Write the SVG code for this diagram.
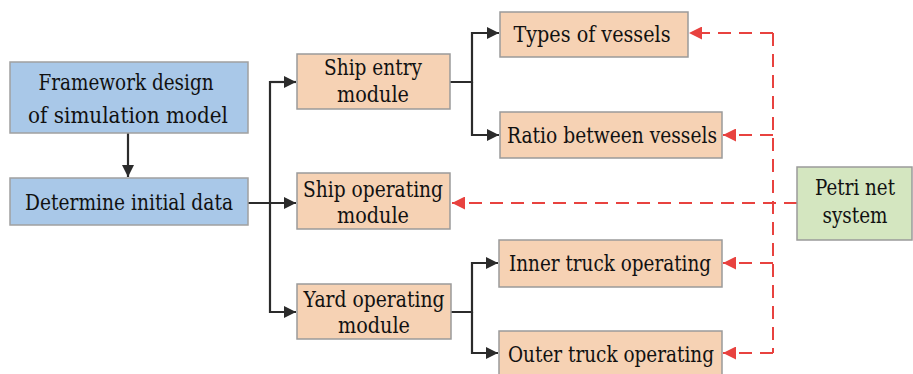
<svg xmlns="http://www.w3.org/2000/svg" width="913" height="374" viewBox="0 0 913 374">
<defs>
<marker id="ab" viewBox="0 0 10 10" refX="10" refY="5" markerWidth="12" markerHeight="12" markerUnits="userSpaceOnUse" orient="auto"><path d="M0,0 L10,5 L0,10 Z" fill="#2b2b2b"/></marker>
<marker id="ar" viewBox="0 0 10 10" refX="10" refY="5" markerWidth="13" markerHeight="13" markerUnits="userSpaceOnUse" orient="auto"><path d="M0,0 L10,5 L0,10 Z" fill="#e8423f"/></marker>
</defs>
<style>
text{font-family:"DejaVu Serif",serif;font-size:22px;fill:#111;text-anchor:middle}
.blue{fill:#a9c8e8;stroke:#a0a0a0;stroke-width:1.5}
.org{fill:#f6d2b4;stroke:#9a9a9a;stroke-width:1.5}
.grn{fill:#d4e6c0;stroke:#9a9a9a;stroke-width:1.5}
.k{fill:none;stroke:#2b2b2b;stroke-width:2.2}
.r{fill:none;stroke:#e8423f;stroke-width:2;stroke-dasharray:13 8}
</style>
<g id="connectors">
<path class="k" d="M128,133 V177" marker-end="url(#ab)"/>
<path class="k" d="M248,203 H296" marker-end="url(#ab)"/>
<path class="k" d="M296,82 H270 V312 H296" marker-end="url(#ab)"/>
<path class="k" d="M270,82 H296" marker-end="url(#ab)"/>
<path class="k" d="M450,82 H472 V33 H499" marker-end="url(#ab)"/>
<path class="k" d="M472,82 V135 H499" marker-end="url(#ab)"/>
<path class="k" d="M451,312 H472 V263 H498" marker-end="url(#ab)"/>
<path class="k" d="M472,312 V353 H498" marker-end="url(#ab)"/>
<path class="r" d="M797,203 H452" marker-end="url(#ar)"/>
<path class="r" d="M773,33 V353"/>
<path class="r" d="M773,33 H689" marker-end="url(#ar)"/>
<path class="r" d="M773,135 H723" marker-end="url(#ar)"/>
<path class="r" d="M773,263 H723" marker-end="url(#ar)"/>
<path class="r" d="M773,353 H723" marker-end="url(#ar)"/>
</g>
<g id="framework"><rect class="blue" x="10" y="62" width="238" height="71"/><text x="126" y="90" textLength="175" lengthAdjust="spacingAndGlyphs">Framework design</text><text x="128" y="123" textLength="200" lengthAdjust="spacingAndGlyphs">of simulation model</text></g>
<g id="initial"><rect class="blue" x="10" y="178" width="238" height="47"/><text x="129" y="210" textLength="208" lengthAdjust="spacingAndGlyphs">Determine initial data</text></g>
<g id="shipentry"><rect class="org" x="297" y="54" width="153" height="55"/><text x="373" y="75" textLength="98" lengthAdjust="spacingAndGlyphs">Ship entry</text><text x="373" y="102" textLength="72" lengthAdjust="spacingAndGlyphs">module</text></g>
<g id="shipop"><rect class="org" x="297" y="173" width="153" height="56"/><text x="373" y="197" textLength="140" lengthAdjust="spacingAndGlyphs">Ship operating</text><text x="373" y="223" textLength="72" lengthAdjust="spacingAndGlyphs">module</text></g>
<g id="yardop"><rect class="org" x="297" y="284" width="154" height="55"/><text x="374" y="307" textLength="141" lengthAdjust="spacingAndGlyphs">Yard operating</text><text x="374" y="333" textLength="72" lengthAdjust="spacingAndGlyphs">module</text></g>
<g id="types"><rect class="org" x="500" y="12" width="188" height="45"/><text x="592" y="42" textLength="157" lengthAdjust="spacingAndGlyphs">Types of vessels</text></g>
<g id="ratio"><rect class="org" x="500" y="112" width="222" height="46"/><text x="612" y="143" textLength="210" lengthAdjust="spacingAndGlyphs">Ratio between vessels</text></g>
<g id="inner"><rect class="org" x="499" y="240" width="223" height="47"/><text x="610" y="271" textLength="202" lengthAdjust="spacingAndGlyphs">Inner truck operating</text></g>
<g id="outer"><rect class="org" x="499" y="331" width="223" height="44"/><text x="611" y="362" textLength="206" lengthAdjust="spacingAndGlyphs">Outer truck operating</text></g>
<g id="petri"><rect class="grn" x="797" y="167" width="115" height="73"/><text x="855" y="195" textLength="80" lengthAdjust="spacingAndGlyphs">Petri net</text><text x="855" y="223" textLength="65" lengthAdjust="spacingAndGlyphs">system</text></g>
</svg>
